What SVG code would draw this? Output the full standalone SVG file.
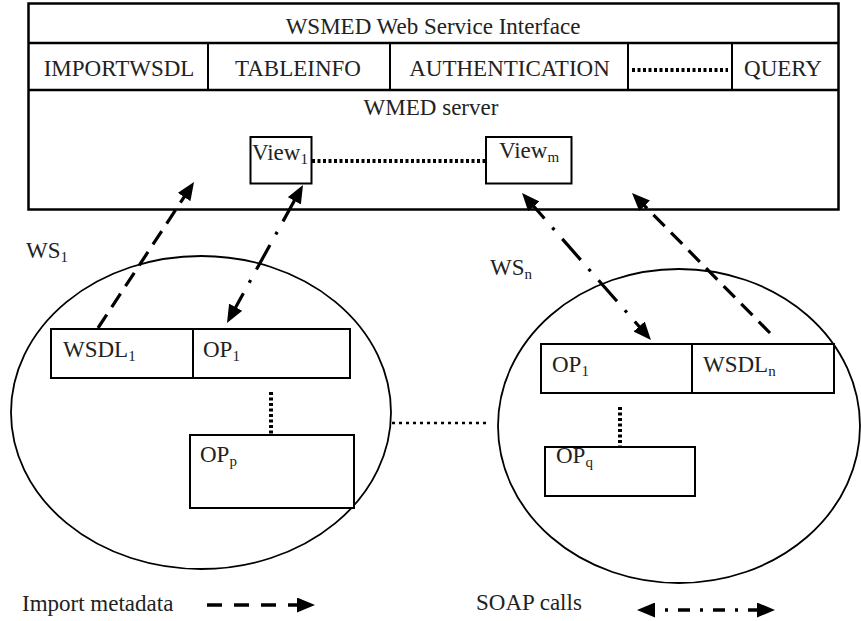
<svg xmlns="http://www.w3.org/2000/svg" width="861" height="621" viewBox="0 0 861 621">
<style>
text{font-family:'Liberation Serif','Tinos','DejaVu Serif',serif;font-size:23px;fill:#222}
.sub{font-size:15px}
.box{fill:#fff;stroke:#000;stroke-width:2}
.frame{fill:none;stroke:#000;stroke-width:2.5}
.ell{fill:none;stroke:#000;stroke-width:1.8}
.dot{fill:none;stroke:#000;stroke-width:4;stroke-dasharray:3 2.5}
.dot2{fill:none;stroke:#000;stroke-width:2.5;stroke-dasharray:3 4}
.dash{fill:none;stroke:#000;stroke-width:3.2;stroke-dasharray:16 9}
.dashdot{fill:none;stroke:#000;stroke-width:3.2;stroke-dasharray:28 12 3 12}
.ldash{fill:none;stroke:#000;stroke-width:3.5;stroke-dasharray:15 12}
.ldashdot{fill:none;stroke:#000;stroke-width:3.5;stroke-dasharray:12 10 3 10}
</style>
<defs>
<marker id="ah" markerUnits="userSpaceOnUse" markerWidth="18" markerHeight="15" refX="12" refY="7.5" orient="auto-start-reverse" viewBox="0 0 18 15">
<path d="M0,0 L18,7.5 L0,15 z" fill="#000"/>
</marker>
</defs>

<g id="wsmed-interface">
<rect class="frame" x="28.5" y="3.5" width="810" height="206"/>
<text x="433" y="34" text-anchor="middle">WSMED Web Service Interface</text>
<line x1="28" y1="43" x2="838" y2="43" stroke="#000" stroke-width="2.5"/>
<line x1="28" y1="90" x2="838" y2="90" stroke="#000" stroke-width="2.5"/>
</g>
<g id="importwsdl">
<line x1="208" y1="43" x2="208" y2="90" stroke="#000" stroke-width="2"/>
<text x="119" y="76" text-anchor="middle">IMPORTWSDL</text>
</g>
<g id="tableinfo">
<line x1="390" y1="43" x2="390" y2="90" stroke="#000" stroke-width="2"/>
<text x="298" y="76" text-anchor="middle">TABLEINFO</text>
</g>
<g id="authentication">
<line x1="628" y1="43" x2="628" y2="90" stroke="#000" stroke-width="2"/>
<text x="509.5" y="76" text-anchor="middle">AUTHENTICATION</text>
</g>
<g id="query">
<line x1="732" y1="43" x2="732" y2="90" stroke="#000" stroke-width="2"/>
<text x="783" y="76" text-anchor="middle">QUERY</text>
</g>
<g id="wmed-server">
<text x="431" y="115" text-anchor="middle">WMED server</text>
</g>
<g id="view1">
<rect class="box" x="250.5" y="137" width="61" height="46.5"/>
<text x="252" y="160">View<tspan class="sub" dy="4">1</tspan></text>
</g>
<g id="viewm">
<rect class="box" x="486" y="137" width="85.5" height="46.5"/>
<text x="499" y="158">View<tspan class="sub" dy="4">m</tspan></text>
</g>

<g id="ws1">
<ellipse class="ell" cx="201" cy="412.5" rx="190" ry="156.5"/>
<text x="26" y="258">WS<tspan class="sub" dy="4">1</tspan></text>
</g>
<g id="wsdl1">
<rect class="box" x="51" y="329" width="142" height="49"/>
<text x="63" y="357">WSDL<tspan class="sub" dy="4">1</tspan></text>
</g>
<g id="ws1-op1">
<rect class="box" x="193" y="329" width="157" height="49"/>
<text x="203" y="357">OP<tspan class="sub" dy="4">1</tspan></text>
</g>
<g id="ws1-opp">
<rect class="box" x="190" y="435" width="164" height="73"/>
<text x="200" y="462">OP<tspan class="sub" dy="4">p</tspan></text>
</g>

<g id="wsn">
<ellipse class="ell" cx="679" cy="426" rx="181" ry="157"/>
<text x="490" y="275">WS<tspan class="sub" dy="4">n</tspan></text>
</g>
<g id="wsn-op1">
<rect class="box" x="541" y="344" width="151" height="49"/>
<text x="552" y="372">OP<tspan class="sub" dy="4">1</tspan></text>
</g>
<g id="wsdln">
<rect class="box" x="692" y="344" width="142" height="49"/>
<text x="703" y="372">WSDL<tspan class="sub" dy="4">n</tspan></text>
</g>
<g id="wsn-opq">
<rect class="box" x="545" y="447" width="150" height="49"/>
<text x="556" y="463">OP<tspan class="sub" dy="4">q</tspan></text>
</g>

<g id="legend">
<text x="22" y="611">Import metadata</text>
<line class="ldash" x1="207" y1="605" x2="309" y2="605" marker-end="url(#ah)"/>
<text x="476" y="610">SOAP calls</text>
<line class="ldashdot" x1="643" y1="610" x2="769" y2="610" marker-start="url(#ah)" marker-end="url(#ah)"/>
</g>

<g id="connectors">
<line class="dot" x1="312" y1="161" x2="486" y2="161"/>
<line class="dot" x1="632" y1="70" x2="728" y2="70"/>
<line class="dot" x1="271" y1="392" x2="271" y2="435"/>
<line class="dot" x1="620" y1="407" x2="620" y2="447"/>
<line class="dot2" x1="392" y1="423" x2="488" y2="423"/>
<line class="dash" x1="98" y1="328" x2="190.7" y2="187" marker-end="url(#ah)"/>
<line class="dashdot" x1="229.9" y1="317.7" x2="300.1" y2="190.3" marker-start="url(#ah)" marker-end="url(#ah)"/>
<line class="dashdot" x1="526" y1="197.5" x2="647" y2="335.5" marker-start="url(#ah)" marker-end="url(#ah)"/>
<line class="dash" x1="770" y1="333" x2="636.2" y2="197.3" marker-end="url(#ah)"/>
</g>
</svg>
